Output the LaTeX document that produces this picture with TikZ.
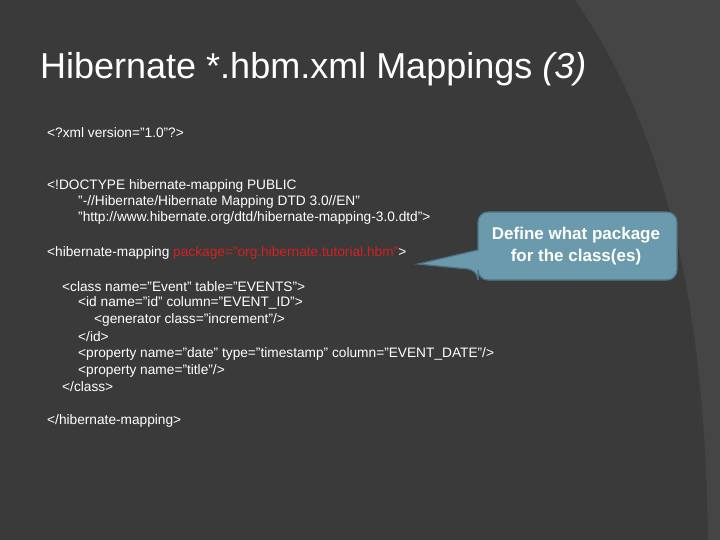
\documentclass[tikz,border=0pt]{standalone}
\usepackage{fontspec}
\setmainfont{Liberation Sans}
\definecolor{bg}{HTML}{3A3A3A}
\definecolor{bg2}{HTML}{454545}
\definecolor{callf}{HTML}{6A9AAB}
\definecolor{calld}{HTML}{4C7585}
\definecolor{codered}{HTML}{D42020}
\begin{document}
\begin{tikzpicture}[x=1pt,y=-1pt,
  code/.style={anchor=west,text=white,font=\fontsize{13.7}{16}\selectfont,inner sep=0pt}]
\useasboundingbox (0,0) rectangle (720,540);
\fill[bg] (0,0) rectangle (720,540);
\fill[bg2] (575,0) .. controls (665,130) and (705,300) .. (708,540) -- (720,540) -- (720,0) -- cycle;
\node[anchor=west,text=white,font=\fontsize{36}{40}\selectfont,inner sep=0pt] (title) at (40,69) {Hibernate *.hbm.xml Mappings \textit{(3)}};
\node[code] (l1) at (47,133) {<?xml version="1.0"?>};
\node[code] (l2) at (47,186) {<!DOCTYPE hibernate-mapping PUBLIC};
\node[code] (l3) at (78,202) {"-//Hibernate/Hibernate Mapping DTD 3.0//EN"};
\node[code] (l4) at (78,218) {"http://www.hibernate.org/dtd/hibernate-mapping-3.0.dtd">};
\node[code] (l5) at (47,253) {<hibernate-mapping \textcolor{codered}{package="org.hibernate.tutorial.hbm"}>};
\node[code] (l6) at (62,287) {<class name="Event" table="EVENTS">};
\node[code] (l7) at (78,303) {<id name="id" column="EVENT\_ID">};
\node[code] (l8) at (94,320) {<generator class="increment"/>};
\node[code] (l9) at (78,337) {</id>};
\node[code] (l10) at (78,354) {<property name="date" type="timestamp" column="EVENT\_DATE"/>};
\node[code] (l11) at (78,371) {<property name="title"/>};
\node[code] (l12) at (62,387) {</class>};
\node[code] (l13) at (47,421) {</hibernate-mapping>};
\fill[callf,draw=calld,line width=1.2pt,rounded corners=10pt]
  (478,212) -- (677,212) -- (677,280) -- (478,280) -- (478,270) [sharp corners] -- (418,264) -- (478,250) [rounded corners=10pt] -- cycle;
\node[text=white,font=\bfseries\fontsize{17}{22}\selectfont,align=center] (call) at (576,246) {Define what package\\for the class(es)};
\end{tikzpicture}
\end{document}
